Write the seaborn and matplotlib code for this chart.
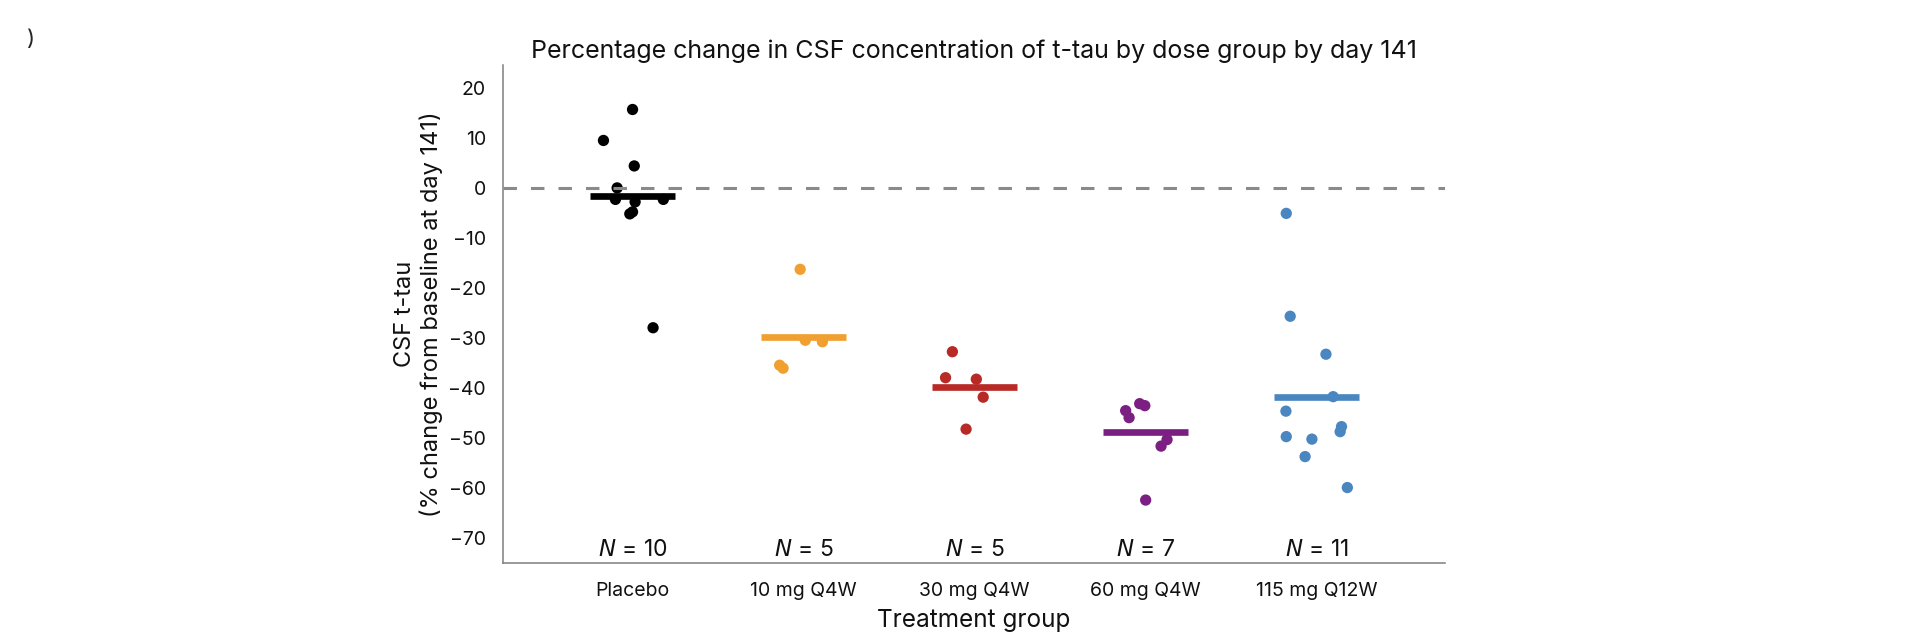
import numpy as np
import pandas as pd
import matplotlib
matplotlib.use("Agg")
import matplotlib.pyplot as plt
import seaborn as sns

# Werte (% Änderung CSF t-tau bis Tag 141)
groups = ["Placebo", "10 mg Q4W", "30 mg Q4W", "60 mg Q4W", "115 mg Q12W"]
colors = ["#000000", "#F0A030", "#B82A26", "#7B1F82", "#4A86C0"]

placebo = [15.7, 9.5, 4.4, 0.0, -2.3, -2.8, -5.2, -4.8, -2.3, -28.0]
dose_10 = [-16.3, -30.5, -30.8, -35.5, -36.1]
dose_30 = [-32.8, -38.0, -38.3, -41.9, -48.3]
dose_60 = [-44.6, -46.0, -43.2, -43.6, -50.4, -51.7, -62.5]
dose_115 = [-5.1, -25.7, -33.3, -41.8, -44.7, -47.8, -48.8, -49.8, -50.3, -53.8, -60.0]

# horizontaler Versatz der Punkte (Jitter), aus dem Bild gelesen
jit_placebo = [0.0, -0.17, 0.01, -0.09, -0.10, 0.015, -0.016, 0.0, 0.18, 0.12]
jit_10 = [-0.02, 0.01, 0.11, -0.14, -0.12]
jit_30 = [-0.13, -0.17, 0.01, 0.05, -0.05]
jit_60 = [-0.117, -0.097, -0.035, -0.005, 0.125, 0.09, 0.0]
jit_115 = [-0.178, -0.155, 0.054, 0.096, -0.18, 0.145, 0.137, -0.178, -0.028, -0.068, 0.179]

values = [placebo, dose_10, dose_30, dose_60, dose_115]
jitters = [jit_placebo, jit_10, jit_30, jit_60, jit_115]

rows = []
for g, vals, jit in zip(groups, values, jitters):
    for v, j in zip(vals, jit):
        rows.append({"group": g, "value": v, "jitter": j})
df = pd.DataFrame(rows)
df["pos"] = df["group"].map({g: i for i, g in enumerate(groups)}) + df["jitter"]

sns.set_theme(style="white")
plt.rcParams["font.family"] = ["Inter", "DejaVu Sans"]
plt.rcParams["mathtext.fontset"] = "dejavusans"
plt.rcParams["axes.unicode_minus"] = True

fig = plt.figure(figsize=(19.2, 6.44), dpi=100)
ax = fig.add_axes([0.2621, 0.1258, 0.4905, 0.7732])

palette = dict(zip(groups, colors))
sns.scatterplot(data=df, x="pos", y="value", hue="group", palette=palette,
                s=66, linewidth=0, legend=False, ax=ax, zorder=2)

# Mittelwert je Gruppe als Querbalken
means = df.groupby("group", sort=False)["value"].mean()
for i, g in enumerate(groups):
    ax.hlines(means[g], i - 0.25, i + 0.25, color=palette[g], lw=4.8, zorder=3)

ax.axhline(0, color="#8a8a8a", lw=2.2, dashes=(4.4, 4.6), zorder=4)

# Gruppengrößen
for i, g in enumerate(groups):
    n = int((df["group"] == g).sum())
    ax.text(i, -74.7, f"$N$ = {n}", ha="center", va="bottom", fontsize=16.5, color="#111111")

ax.set_xlim(-0.756, 4.75)
ax.set_ylim(-75.1, 24.6)
ax.set_xticks(range(len(groups)))
ax.set_xticklabels(groups)
ax.set_yticks(range(-70, 21, 10))

sns.despine(ax=ax)
for side in ["left", "bottom"]:
    ax.spines[side].set_color("#7f7f7f")
    ax.spines[side].set_linewidth(1.1)
ax.tick_params(axis="both", direction="out", length=6.5, width=1.1, color="#7f7f7f",
               labelcolor="#111111")
ax.tick_params(axis="x", labelsize=14, pad=7)
ax.tick_params(axis="y", labelsize=14, pad=6)

ax.set_title("Percentage change in CSF concentration of t-tau by dose group by day 141",
             fontsize=18, pad=5, color="#111111")
ax.set_ylabel("CSF t-tau\n(% change from baseline at day 141)", fontsize=17,
              linespacing=1.2, color="#111111")
ax.yaxis.set_label_coords(-0.064, 0.5)
ax.set_xlabel("Treatment group", fontsize=17.5, color="#111111")
ax.xaxis.set_label_coords(0.5, -0.092)

fig.text(0.016, 0.94, ")", fontsize=16, ha="center", va="center")

fig.savefig("out.png", dpi=100)
